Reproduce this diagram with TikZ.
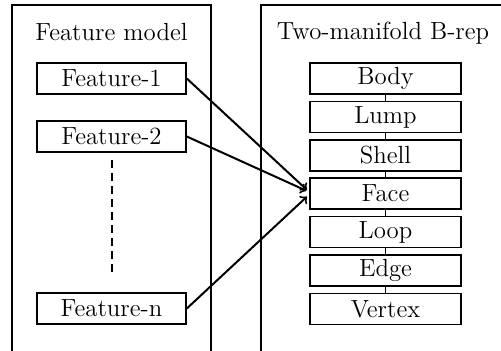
\documentclass[tikz,border=0pt]{standalone}
\usepackage{tikz}
\usetikzlibrary{calc}
\tikzset{
	featbox/.style={draw, line width=0.8pt, minimum width=74.5pt, minimum height=15.5pt, inner sep=0pt, font=\fontsize{12.4}{14}\selectfont},
	repbox/.style={draw, line width=0.8pt, minimum width=75.5pt, minimum height=15.5pt, inner sep=0pt, font=\fontsize{12.4}{14}\selectfont},
	title/.style={font=\fontsize{12.4}{14}\selectfont},
}

\begin{document}
\begin{tikzpicture}[x=0.5pt, y=-0.5pt]
		%%%%% START %%%%%
		\useasboundingbox (0, 0) rectangle (501, 350);
		
		\draw[line width=0.9pt] (12, 352) -- (12, 5) -- (211, 5) -- (211, 352);
		\draw[line width=0.9pt] (261, 352) -- (261, 5) -- (503, 5);
		
		\node[title] (fmtitle) at (111.5, 32) {Feature model};
		\node[title] (brtitle) at (383, 33) {Two-manifold B-rep};
		
		\node[featbox] (feat1) at (111.5, 78.5) {Feature-1};
		\node[featbox] (feat2) at (111.5, 136.5) {Feature-2};
		\node[featbox] (featn) at (111.5, 308.5) {Feature-n};
		
		\coordinate (dottop) at (112, 160);
		\coordinate (dotbot) at (112, 274);
		\draw[line width=0.7pt, dash pattern=on 4pt off 2.5pt] (dottop) -- (dotbot);
		
		\node[repbox] (body) at (385.5, 78.5) {Body};
		\node[repbox] (lump) at (385.5, 117) {Lump};
		\node[repbox] (shell) at (385.5, 155.5) {Shell};
		\node[repbox] (face) at (385.5, 193.5) {Face};
		\node[repbox] (loop) at (385.5, 232) {Loop};
		\node[repbox] (edge) at (385.5, 270.5) {Edge};
		\node[repbox] (vertex) at (385.5, 309) {Vertex};
		
		\draw[line width=0.7pt] (body) -- (lump);
		\draw[line width=0.7pt] (lump) -- (shell);
		\draw[line width=0.7pt] (shell) -- (face);
		\draw[line width=0.7pt] (face) -- (loop);
		\draw[line width=0.7pt] (loop) -- (edge);
		\draw[line width=0.7pt] (edge) -- (vertex);
		
		\draw[line width=1pt, ->, shorten >=1.5pt] (feat1.east) -- ($(face.west)+(0,-1.5)$);
		\draw[line width=1pt, ->, shorten >=1.5pt] (feat2.east) -- ($(face.west)+(0,-1.5)$);
		\draw[line width=1pt, ->, shorten >=1.5pt] (featn.east) -- ($(face.west)+(0,1)$);
		%%%%% END %%%%%
	\end{tikzpicture}
\end{document}
